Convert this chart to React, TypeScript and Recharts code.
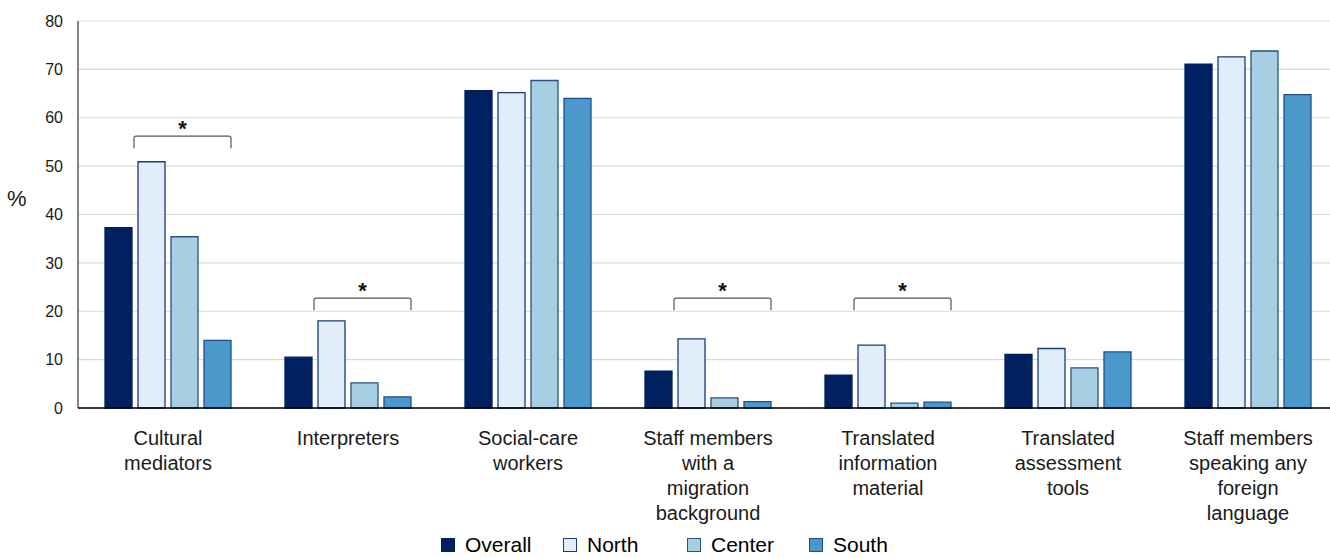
import React from "react";
import { BarChart, Bar, XAxis, YAxis, CartesianGrid, LabelList } from "recharts";

const categories = [
  "Cultural mediators",
  "Interpreters",
  "Social-care workers",
  "Staff members with a migration background",
  "Translated information material",
  "Translated assessment tools",
  "Staff members speaking any foreign language",
];

const categoryLines = [
  ["Cultural", "mediators"],
  ["Interpreters"],
  ["Social-care", "workers"],
  ["Staff members", "with a", "migration", "background"],
  ["Translated", "information", "material"],
  ["Translated", "assessment", "tools"],
  ["Staff members", "speaking any", "foreign", "language"],
];

const overall = [37.3, 10.5, 65.6, 7.6, 6.8, 11.1, 71.1];
const north = [50.9, 18.0, 65.2, 14.3, 13.0, 12.3, 72.6];
const center = [35.4, 5.2, 67.7, 2.1, 1.0, 8.3, 73.8];
const south = [14.0, 2.3, 64.0, 1.3, 1.2, 11.6, 64.8];

// level (in %) of the significance bracket, null = none
const sigLevel = [56.2, 22.7, null, 22.7, 22.7, null, null];

const yTicks = [0, 10, 20, 30, 40, 50, 60, 70, 80];

const series = [
  { key: "overall", name: "Overall", fill: "#002060", stroke: "#002060" },
  { key: "north", name: "North", fill: "#E1EDF8", stroke: "#1B3A7A" },
  { key: "center", name: "Center", fill: "#A8CEE2", stroke: "#2B4F86" },
  { key: "south", name: "South", fill: "#4A99CA", stroke: "#1F4E8C" },
];

const data = categories.map((c, i) => ({
  category: c,
  overall: overall[i],
  north: north[i],
  center: center[i],
  south: south[i],
}));

const FONT = "'Liberation Sans', Arial, sans-serif";
const BAR_GAP = 6;

function CategoryTick(props: any) {
  const { x, y, payload } = props;
  const lines = categoryLines[payload.index] || [payload.value];
  return (
    <text x={x} y={y + 29} textAnchor="middle" fontFamily={FONT} fontSize={20} fill="#1a1a1a">
      {lines.map((l, i) => (
        <tspan key={i} x={x} dy={i === 0 ? 0 : 25}>
          {l}
        </tspan>
      ))}
    </text>
  );
}

function Bracket(props: any) {
  const { x, y, width, height, index, value } = props;
  const level = sigLevel[index];
  if (level == null || !value) return null;
  const bottom = y + height;
  const perUnit = height / value;
  const top = bottom - level * perUnit;
  const left = x - 4;
  const right = x + 3 * width + 2 * BAR_GAP;
  const drop = 12;
  return (
    <g>
      <path
        d={`M${left},${top + drop} L${left},${top + 2} Q${left},${top} ${left + 2},${top} L${right - 2},${top} Q${right},${top} ${right},${top + 2} L${right},${top + drop}`}
        fill="none"
        stroke="#555"
        strokeWidth={1.2}
      />
      <text x={(left + right) / 2} y={top} textAnchor="middle" fontFamily={FONT} fontSize={22} fontWeight="bold" fill="#111">
        *
      </text>
    </g>
  );
}

const legendLeft = [441, 563, 687, 809];

export default function App() {
  return (
    <div style={{ position: "fixed", left: 0, top: 0, width: 1330, height: 558, overflow: "hidden", background: "#fff" }}>
      <BarChart
        width={1338}
        height={558}
        data={data}
        margin={{ top: 21, right: 0, bottom: 0, left: 0 }}
        barCategoryGap="15%"
        barGap={BAR_GAP}
      >
        <CartesianGrid vertical={false} stroke="#D9D9D9" strokeWidth={1.2} />
        <XAxis
          dataKey="category"
          interval={0}
          tickLine={false}
          axisLine={{ stroke: "#000", strokeWidth: 1.5 }}
          tick={<CategoryTick />}
          height={150}
        />
        <YAxis
          width={78}
          domain={[0, 80]}
          ticks={yTicks}
          tickLine={false}
          tickMargin={9}
          axisLine={{ stroke: "#333", strokeWidth: 1.2 }}
          tick={{ fontFamily: FONT, fontSize: 16, fill: "#1a1a1a" }}
          label={{ value: "%", position: "insideLeft", dx: 2, dy: -16, style: { fontFamily: FONT, fontSize: 22, fill: "#1a1a1a" } }}
        />
        {series.map((s) => (
          <Bar
            key={s.key}
            dataKey={s.key}
            name={s.name}
            fill={s.fill}
            stroke={s.stroke}
            strokeWidth={1.3}
            isAnimationActive={false}
          >
            {s.key === "north" ? <LabelList dataKey="north" content={<Bracket />} /> : null}
          </Bar>
        ))}
      </BarChart>
      {series.map((s, i) => (
        <div
          key={s.key}
          style={{
            position: "absolute",
            left: legendLeft[i],
            top: 535,
            height: 19,
            lineHeight: "19px",
            display: "flex",
            alignItems: "center",
            fontFamily: FONT,
            fontSize: 21,
            color: "#000",
            whiteSpace: "nowrap",
          }}
        >
          <span
            style={{
              display: "inline-block",
              width: 12,
              height: 12,
              background: s.fill,
              border: `1px solid ${s.stroke}`,
              marginRight: 10,
            }}
          />
          {s.name}
        </div>
      ))}
    </div>
  );
}
